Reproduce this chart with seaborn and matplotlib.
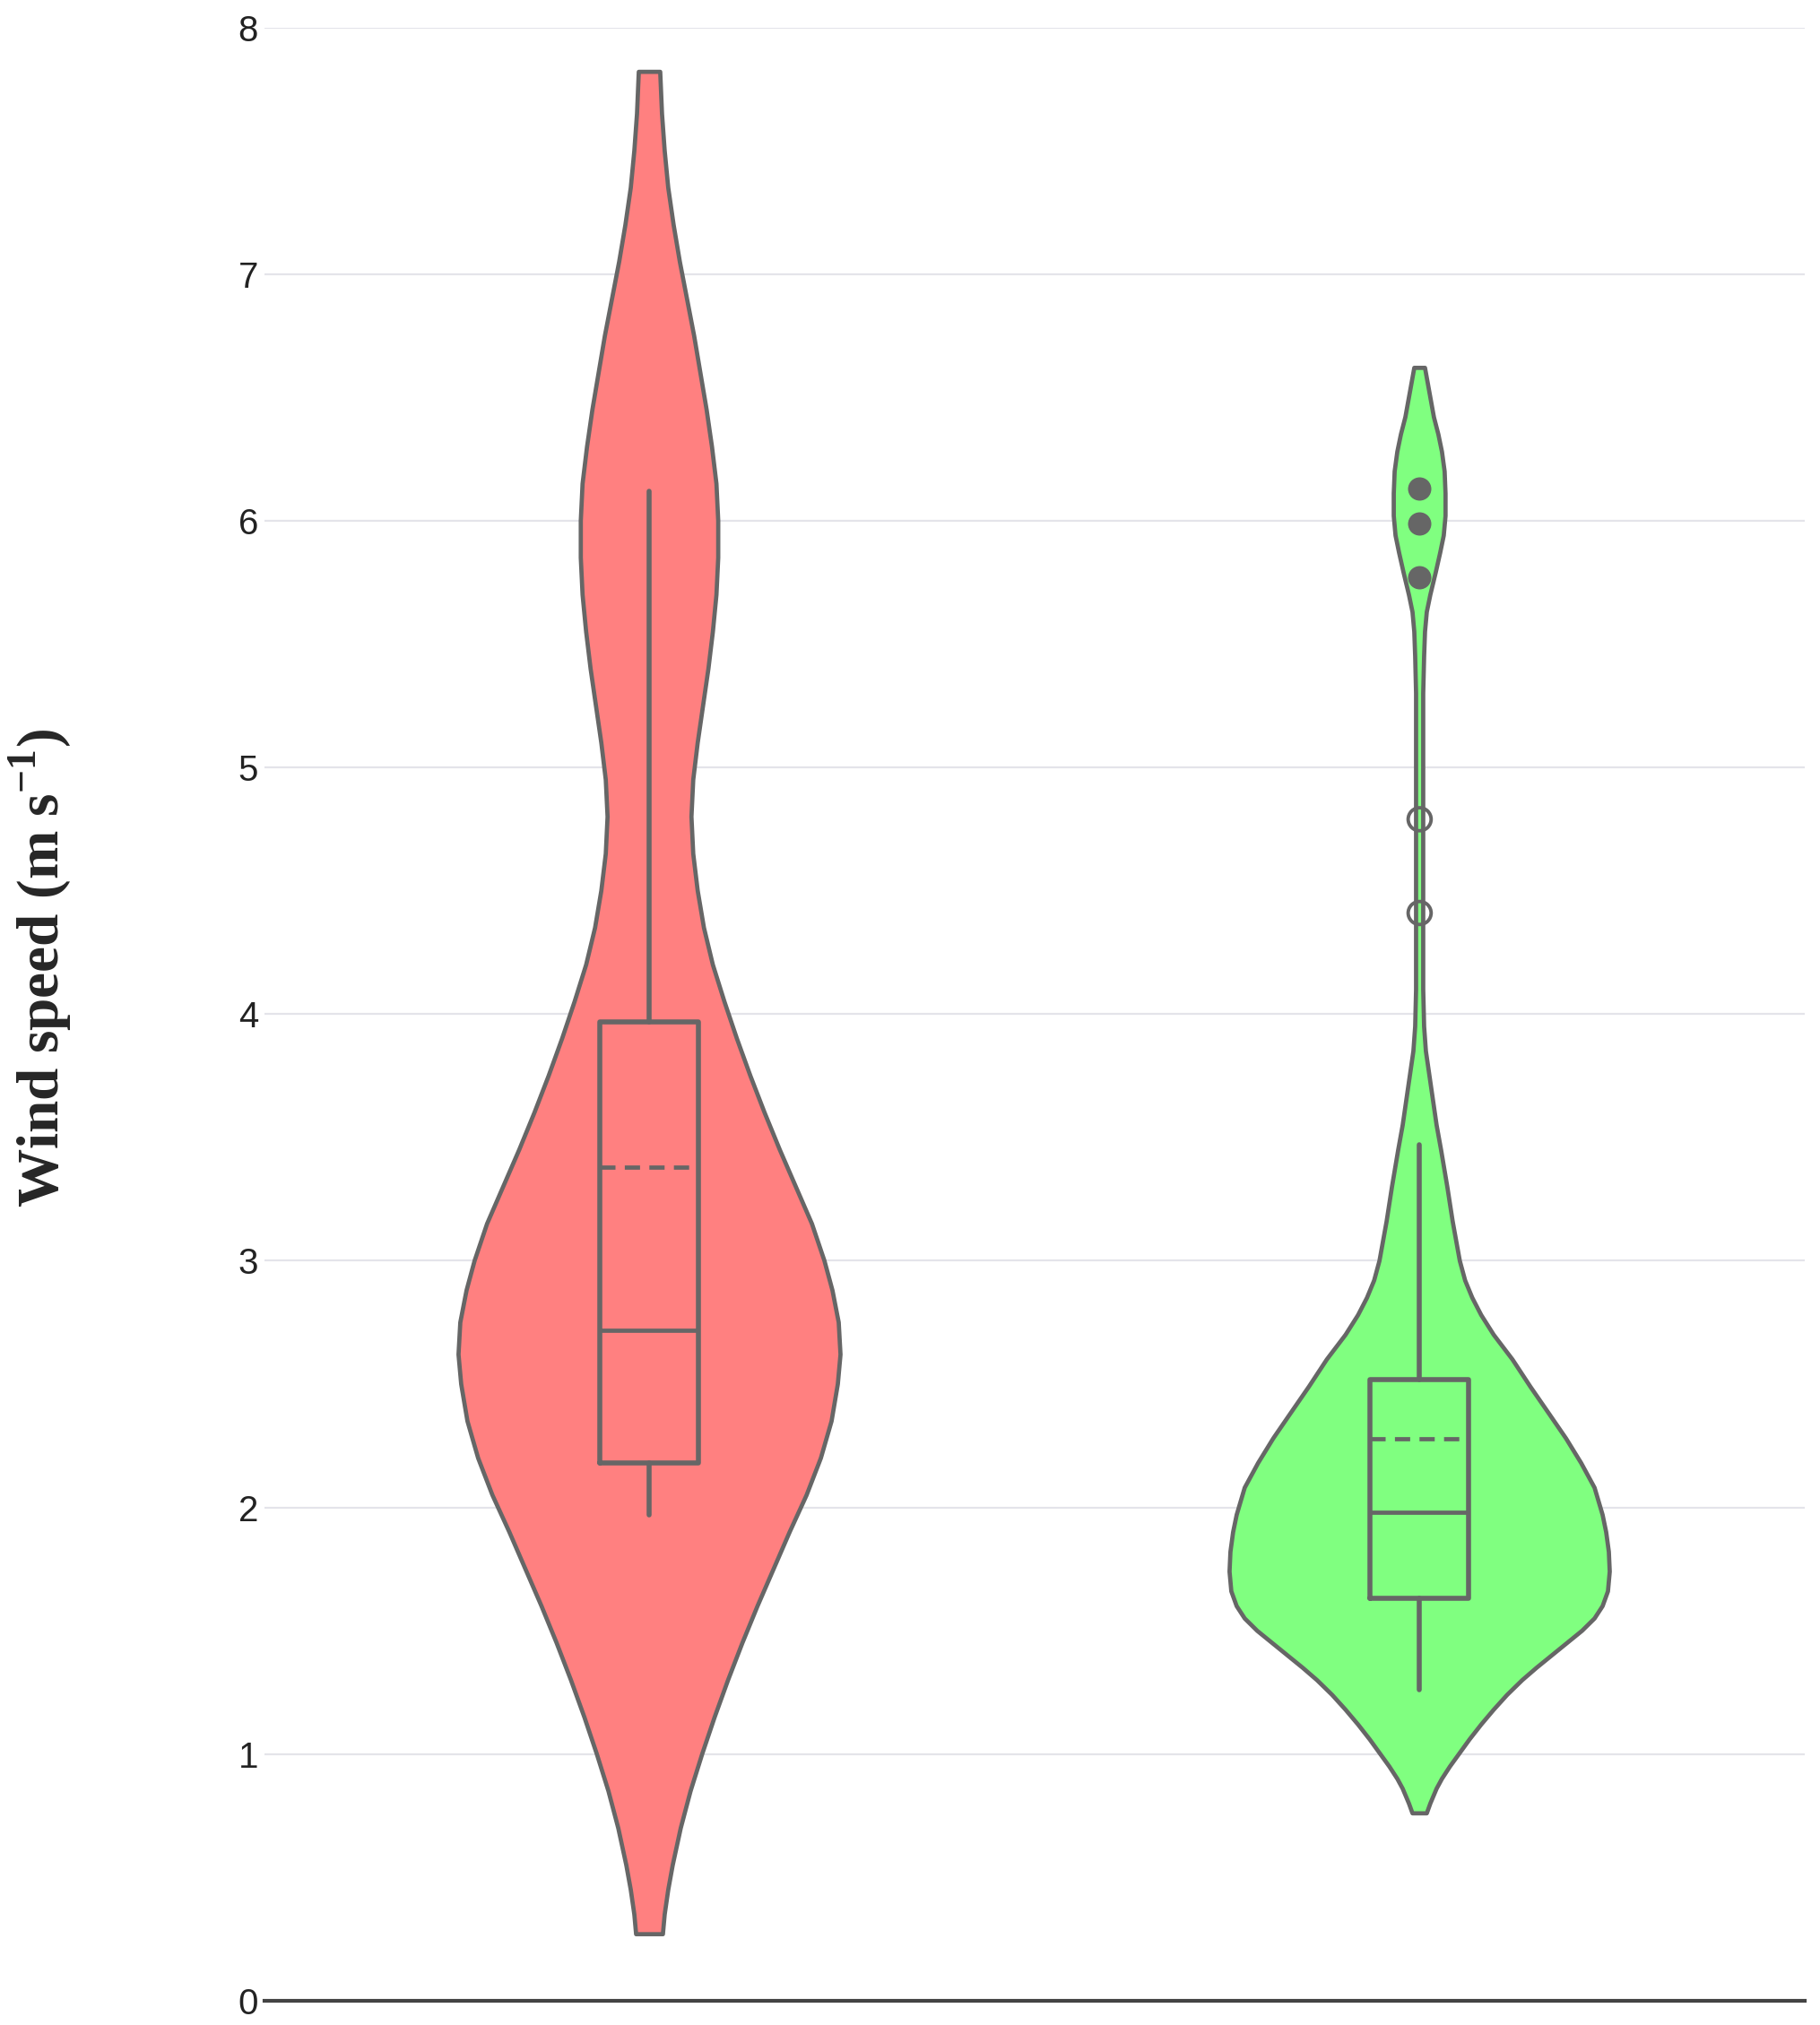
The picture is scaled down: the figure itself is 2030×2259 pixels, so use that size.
import numpy as np
import pandas as pd
import seaborn as sns
import matplotlib.pyplot as plt

# two groups, one violin each
groups = [0, 1]
fill_colors = ["#ff8080", "#80ff80"]
line_color = "#666666"

# violin outline: wind speed level and half-width (px in the original)
red_levels = [0.27, 0.35, 0.45, 0.55, 0.70, 0.85, 1.00, 1.15, 1.30, 1.45, 1.60, 1.75, 1.90,
              2.05, 2.20, 2.35, 2.50, 2.62, 2.75, 2.88, 3.00, 3.15, 3.30, 3.45, 3.60, 3.75,
              3.90, 4.05, 4.20, 4.35, 4.50, 4.65, 4.80, 4.95, 5.10, 5.25, 5.40, 5.55, 5.70,
              5.85, 6.00, 6.15, 6.30, 6.45, 6.60, 6.75, 6.90, 7.05, 7.20, 7.35, 7.50, 7.65,
              7.82]
red_width = [15, 17, 21, 26, 35, 46, 59, 73, 88, 104, 121, 139, 157,
             176, 192, 204, 211, 214, 212, 205, 196, 182, 164, 146, 129, 113,
             98, 84, 71, 61, 54, 49, 47, 49, 54, 60, 66, 71, 75,
             77, 77, 75, 70, 64, 57, 50, 42, 34, 27, 21, 17, 14,
             12]

green_levels = [0.76, 0.80, 0.86, 0.90, 0.95, 1.00, 1.06, 1.12, 1.18, 1.24, 1.30, 1.35, 1.40,
                1.45, 1.50, 1.55, 1.60, 1.66, 1.74, 1.82, 1.90, 1.97, 2.08, 2.18, 2.28, 2.38,
                2.49, 2.60, 2.70, 2.78, 2.85, 2.92, 3.00, 3.16, 3.30, 3.45, 3.55, 3.65, 3.75,
                3.85, 3.95, 4.10, 4.60, 5.00, 5.30, 5.45, 5.55, 5.63, 5.70, 5.79, 5.87, 5.94,
                6.02, 6.11, 6.20, 6.28, 6.35, 6.42, 6.50, 6.62]
green_width = [8, 12, 19, 25, 34, 44, 56, 69, 83, 98, 115, 131, 148,
               165, 182, 196, 205, 211, 213, 212, 209, 205, 196, 181, 164, 145,
               124, 104, 83, 69, 59, 51, 45, 37, 31, 24, 19, 15, 11,
               7, 5, 4, 4, 4, 4, 5, 6, 8, 12, 18, 23, 27,
               29, 29, 28, 25, 21, 16, 12, 6]

# box statistics
q1 = [2.18, 1.63]
median = [2.72, 1.98]
q3 = [3.97, 2.52]
mean = [3.38, 2.28]
whisker_low = [1.97, 1.26]
whisker_high = [6.12, 3.47]

# outliers of the second group
outliers_filled = [6.13, 5.99, 5.77]
outliers_open = [4.79, 4.41]

sns.set_style("white")
plt.rcParams["mathtext.fontset"] = "custom"
plt.rcParams["mathtext.rm"] = "Liberation Serif:bold"
plt.rcParams["mathtext.bf"] = "Liberation Serif:bold"

fig = plt.figure(figsize=(20.3, 22.59), dpi=100)
ax = fig.add_axes([0.1453, 0.01195, 0.8463, 0.9745])

max_half = 0.248
profiles = [(red_levels, red_width), (green_levels, green_width)]
for pos, (lev, wid), col in zip(groups, profiles, fill_colors):
    lev = np.array(lev)
    hw = np.array(wid) / 214 * max_half
    xs = np.concatenate([pos - hw, (pos + hw)[::-1]])
    ys = np.concatenate([lev, lev[::-1]])
    ax.fill(xs, ys, facecolor=col, edgecolor=line_color, lw=3.4, joinstyle="round", zorder=2)

stats = []
for i in range(len(groups)):
    stats.append(dict(q1=q1[i], med=median[i], q3=q3[i], mean=mean[i],
                      whislo=whisker_low[i], whishi=whisker_high[i], fliers=[]))

ax.bxp(stats, positions=groups, widths=0.128, showmeans=True, meanline=True,
       showcaps=False, showfliers=False, manage_ticks=False, zorder=3,
       boxprops=dict(color=line_color, lw=4),
       whiskerprops=dict(color=line_color, lw=4),
       medianprops=dict(color=line_color, lw=3.4),
       meanprops=dict(color=line_color, lw=3.4, linestyle=(0, (3.6, 2.2))))

out_df = pd.DataFrame({"x": [1] * len(outliers_filled), "y": outliers_filled})
sns.scatterplot(data=out_df, x="x", y="y", ax=ax, s=300, color=line_color,
                edgecolor=line_color, zorder=4, legend=False)
out_df2 = pd.DataFrame({"x": [1] * len(outliers_open), "y": outliers_open})
sns.scatterplot(data=out_df2, x="x", y="y", ax=ax, s=340, facecolor="none",
                edgecolor=line_color, linewidth=2.8, zorder=4, legend=False)

ax.set_xlim(-0.5, 1.5)
ax.set_ylim(0, 8)
ax.set_yticks(range(0, 9))
ax.set_xticks([])
ax.set_xlabel("")
ax.set_ylabel("")
ax.yaxis.grid(True, color="#e4e4ea", lw=1.6, zorder=0)
ax.set_axisbelow(True)
ax.tick_params(axis="y", length=0, pad=5, labelsize=29, labelcolor="#222222")
for lab in ax.get_yticklabels():
    lab.set_fontfamily("Liberation Sans")
for side in ["left", "top", "right"]:
    ax.spines[side].set_visible(False)
ax.spines["bottom"].set_color("#444444")
ax.spines["bottom"].set_linewidth(3)

fig.text(0.0225, 0.522, r"Wind speed (m s$^{-1}$)", rotation=90, ha="center", va="center",
         fontsize=47, fontfamily="Liberation Serif", fontweight="bold")

fig.savefig("out.png", dpi=100)
